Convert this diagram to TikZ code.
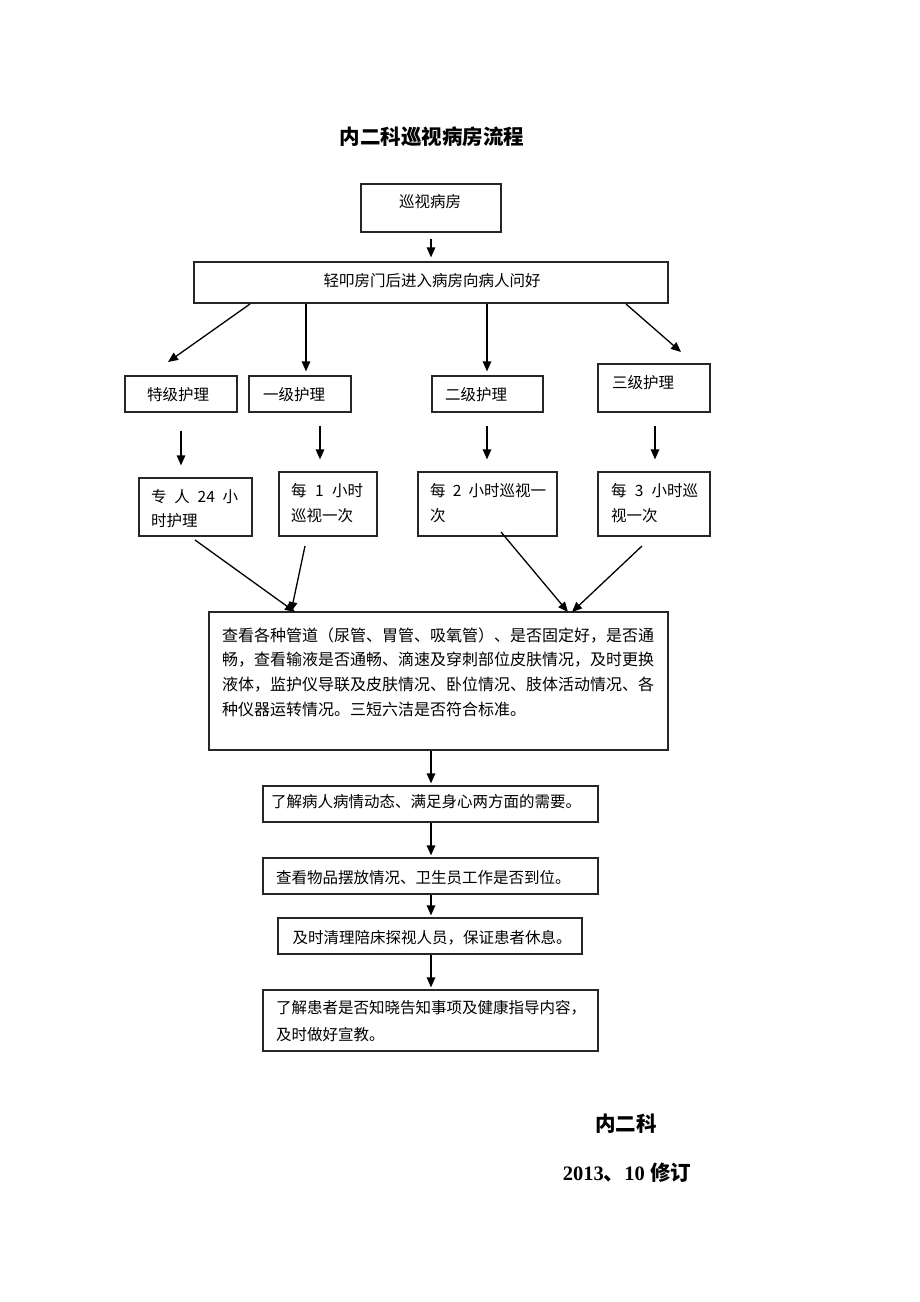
\documentclass[tikz,border=0pt]{standalone}
\usepackage{fontspec}
\setmainfont{Liberation Serif}
\newfontfamily\cjk{Noto Sans CJK SC}
\usetikzlibrary{arrows.meta}
\begin{document}
\begin{tikzpicture}[x=1pt,y=-1pt,
  box/.style={draw=black!85,line width=1.2pt,rectangle,inner sep=0pt},
  txt/.style={inner sep=0pt,font=\cjk\fontsize{15.5}{24.7}\selectfont},
  arr/.style={draw=black,line width=1.3pt,-{Triangle[length=10pt,width=8.5pt]}}]
\useasboundingbox (0,0) rectangle (920,1302);
\fill[white] (0,0) rectangle (920,1302);
% title
\node[inner sep=0pt,font=\cjk\bfseries\fontsize{20.5}{24}\selectfont] (title) at (432,137) {内二科巡视病房流程};
% boxes
\node[box,minimum width=140pt,minimum height=48pt] (b1) at (431,208) {};
\node[txt] at (430,202) {巡视病房};
\node[box,minimum width=474pt,minimum height=41pt] (b2) at (431,282.5) {};
\node[txt] at (432,281) {轻叩房门后进入病房向病人问好};
% levels
\node[box,minimum width=112pt,minimum height=36pt] (l0) at (181,394) {};
\node[txt] at (178,395) {特级护理};
\node[box,minimum width=102pt,minimum height=36pt] (l1) at (300,394) {};
\node[txt] at (294,395) {一级护理};
\node[box,minimum width=111pt,minimum height=36pt] (l2) at (487.5,394) {};
\node[txt] at (476,395) {二级护理};
\node[box,minimum width=112pt,minimum height=48pt] (l3) at (654,388) {};
\node[txt] at (643,383) {三级护理};
% frequencies
\node[box,minimum width=113pt,minimum height=58pt] (f0) at (195.5,507) {};
\node[txt,anchor=west] at (151,497) {\makebox[87pt][s]{专 人 24 小}};
\node[txt,anchor=west] at (151,521) {时护理};
\node[box,minimum width=98pt,minimum height=64pt] (f1) at (328,504) {};
\node[txt,anchor=west] at (291,491) {\makebox[72pt][s]{每 1 小时}};
\node[txt,anchor=west] at (291,516) {巡视一次};
\node[box,minimum width=139pt,minimum height=64pt] (f2) at (487.5,504) {};
\node[txt,anchor=west] at (430,491) {\makebox[116pt][s]{每 2 小时巡视一}};
\node[txt,anchor=west] at (430,516) {次};
\node[box,minimum width=112pt,minimum height=64pt] (f3) at (654,504) {};
\node[txt,anchor=west] at (611,491) {\makebox[87pt][s]{每 3 小时巡}};
\node[txt,anchor=west] at (611,516) {视一次};
% big box
\node[box,minimum width=459pt,minimum height=138pt] (big) at (438.5,681) {};
\node[txt,font=\cjk\fontsize{16}{24.7}\selectfont,anchor=west] at (222,635) {查看各种管道（尿管、胃管、吸氧管）、是否固定好，是否通};
\node[txt,font=\cjk\fontsize{16}{24.7}\selectfont,anchor=west] at (222,660) {畅，查看输液是否通畅、滴速及穿刺部位皮肤情况，及时更换};
\node[txt,font=\cjk\fontsize{16}{24.7}\selectfont,anchor=west] at (222,685) {液体，监护仪导联及皮肤情况、卧位情况、肢体活动情况、各};
\node[txt,font=\cjk\fontsize{16}{24.7}\selectfont,anchor=west] at (222,709) {种仪器运转情况。三短六洁是否符合标准。};
% lower chain
\node[box,minimum width=335pt,minimum height=36pt] (c1) at (430.5,804) {};
\node[txt] at (426,802) {了解病人病情动态、满足身心两方面的需要。};
\node[box,minimum width=335pt,minimum height=36pt] (c2) at (430.5,876) {};
\node[txt,anchor=west] at (276,878) {查看物品摆放情况、卫生员工作是否到位。};
\node[box,minimum width=304pt,minimum height=36pt] (c3) at (430,936) {};
\node[txt] at (432,938) {及时清理陪床探视人员，保证患者休息。};
\node[box,minimum width=335pt,minimum height=61pt] (c4) at (430.5,1020.5) {};
\node[txt,anchor=west] at (276,1008) {了解患者是否知晓告知事项及健康指导内容，};
\node[txt,anchor=west] at (276,1035) {及时做好宣教。};
% footer
\node[inner sep=0pt,font=\cjk\bfseries\fontsize{20.5}{24}\selectfont] (dept) at (626,1124) {内二科};
\node[inner sep=0pt,font=\bfseries\fontsize{20.5}{24}\selectfont] (date) at (627,1173) {2013{\cjk 、}10 {\cjk 修订}};
% arrow end points
\coordinate (s1) at (250,304); \coordinate (e1) at (168,362);
\coordinate (s4) at (626,304); \coordinate (e4) at (681,352);
\coordinate (g0) at (195,540); \coordinate (h0) at (295,612);
\coordinate (g1) at (305,546); \coordinate (h1) at (291,612);
\coordinate (g2) at (501,532); \coordinate (h2) at (568,612);
\coordinate (g3) at (642,546); \coordinate (h3) at (572,612);
% arrows
\draw[arr] ([yshift=-6pt]b1.south) -- ([yshift=4pt]b2.north);
\draw[arr] (s1) -- (e1);
\draw[arr] (b2.south -| 306,0) -- ([yshift=4pt]l1.north -| 306,0);
\draw[arr] (b2.south -| 487,0) -- ([yshift=4pt]l2.north -| 487,0);
\draw[arr] (s4) -- (e4);
\draw[arr] ([yshift=-18pt]l0.south) -- ([yshift=12pt]f0.north -| l0.south);
\draw[arr] ([yshift=-13pt]l1.south -| 320,0) -- ([yshift=12pt]f1.north -| 320,0);
\draw[arr] ([yshift=-13pt]l2.south -| 487,0) -- ([yshift=12pt]f2.north -| 487,0);
\draw[arr] ([yshift=-13pt]l3.south -| 655,0) -- ([yshift=12pt]f3.north -| 655,0);
\draw[arr] (g0) -- (h0);
\draw[arr] (g1) -- (h1);
\draw[arr] (g2) -- (h2);
\draw[arr] (g3) -- (h3);
\draw[arr] (big.south -| 431,0) -- ([yshift=2pt]c1.north -| 431,0);
\draw[arr] (c1.south -| 431,0) -- ([yshift=2pt]c2.north -| 431,0);
\draw[arr] (c2.south -| 431,0) -- ([yshift=2pt]c3.north -| 431,0);
\draw[arr] (c3.south -| 431,0) -- ([yshift=2pt]c4.north -| 431,0);
\end{tikzpicture}
\end{document}
